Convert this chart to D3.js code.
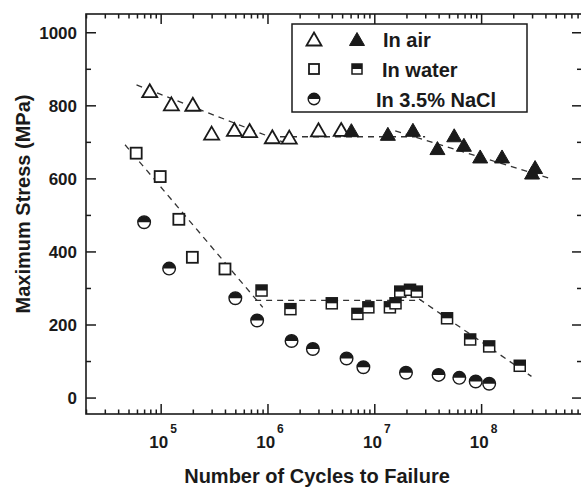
<!DOCTYPE html>
<html><head><meta charset="utf-8">
<script src="https://cdn.jsdelivr.net/npm/d3@7"></script>
<style>body{margin:0;background:#fff}svg{display:block}</style>
</head><body>
<script>
// ---- data ----
const airOpenN   = [7.9e4, 1.26e5, 2.0e5, 3.0e5, 4.9e5, 6.8e5, 1.11e6, 1.6e6, 3.0e6, 4.9e6];
const airOpenS   = [840, 804, 803, 724, 734, 731, 714, 713, 733, 734];
const airFilledN = [6.1e6, 1.34e7, 2.3e7, 3.9e7, 5.6e7, 6.9e7, 9.8e7, 1.57e8, 3.2e8, 3.0e8];
const airFilledS = [732, 722, 733, 683, 718, 692, 660, 660, 631, 616];
const waterOpenN = [5.9e4, 9.9e4, 1.48e5, 1.98e5, 4.0e5];
const waterOpenS = [669, 605, 488, 384, 352];
const waterHalfN = [8.8e5, 1.64e6, 4.0e6, 6.95e6, 8.8e6, 1.4e7, 1.58e7, 1.75e7, 2.16e7, 2.5e7, 4.8e7, 7.9e7, 1.19e8, 2.3e8];
const waterHalfS = [293, 242, 258, 229, 247, 247, 258, 290, 295, 290, 217, 159, 140, 87];
const naclN = [7.0e4, 1.2e5, 5.0e5, 8.0e5, 1.68e6, 2.66e6, 5.5e6, 7.9e6, 1.98e7, 4.0e7, 6.25e7, 8.9e7, 1.19e8];
const naclS = [480, 353, 272, 211, 155, 133, 107, 83, 68, 62, 54, 44, 38];
// dashed fit segments: [N start, N end], [S start, S end]
const airFitN   = [[5.94e4, 1.63e6], [1.31e6, 2.99e7], [1.57e7, 4.5e8]];
const airFitS   = [[856, 692], [714, 714], [730, 599]];
const waterFitN = [[4.64e4, 9.04e5], [7.66e5, 2.79e7], [2.16e7, 2.96e8]];
const waterFitS = [[692, 247], [266, 266], [287, 58]];
// ticks / labels
const yMajor = [0, 200, 400, 600, 800, 1000];
const yMinor = [100, 300, 500, 700, 900];
const xExps = [5, 6, 7, 8];
const legendLabels = ["In air", "In water", "In 3.5% NaCl"];
const xTitle = "Number of Cycles to Failure";
const yTitle = "Maximum Stress (MPa)";

// ---- layout ----
const W = 581, H = 489;
const L = 86, R = 582, T = 14, B = 414;
const FONT = "'Liberation Sans', Arial, Helvetica, sans-serif";
const INK = "#1a1a1a";

const x = d3.scaleLog().domain([2e4, 8.8e8]).range([L, R]);
const y = d3.scaleLinear().domain([-45, 1050]).range([B, T]);

const xMajorVals = [1e5, 1e6, 1e7, 1e8];
const xMinorVals = [];
for (let e = 4; e <= 8; e++) for (let m = 2; m <= 9; m++) { const v = m * Math.pow(10, e); if (v < 8.8e8) xMinorVals.push(v); }

const svg = d3.select("body").append("svg").attr("width", W).attr("height", H);

function styleAxis(g) {
  g.select(".domain").remove();
  g.selectAll(".tick line").attr("stroke", INK).attr("stroke-width", 1.5);
  g.attr("font-family", FONT);
}

// x axes (bottom + top), ticks inward
svg.append("g").attr("transform", `translate(0,${B})`)
  .call(d3.axisBottom(x).tickValues(xMajorVals).tickSize(-10).tickSizeOuter(0).tickFormat(() => "")).call(styleAxis);
svg.append("g").attr("transform", `translate(0,${B})`)
  .call(d3.axisBottom(x).tickValues(xMinorVals).tickSize(-4.5).tickSizeOuter(0).tickFormat(() => "")).call(styleAxis);
svg.append("g").attr("transform", `translate(0,${T})`)
  .call(d3.axisTop(x).tickValues(xMajorVals).tickSize(-10).tickSizeOuter(0).tickFormat(() => "")).call(styleAxis);
svg.append("g").attr("transform", `translate(0,${T})`)
  .call(d3.axisTop(x).tickValues(xMinorVals).tickSize(-4.5).tickSizeOuter(0).tickFormat(() => "")).call(styleAxis);

// y axes (left + right)
const gl = svg.append("g").attr("transform", `translate(${L},0)`)
  .call(d3.axisLeft(y).tickValues(yMajor).tickSize(-10).tickSizeOuter(0).tickPadding(9).tickFormat(d3.format("d")));
styleAxis(gl);
gl.selectAll(".tick text").attr("font-size", 17).attr("font-weight", "bold").attr("fill", INK).attr("dy", "0.36em");
svg.append("g").attr("transform", `translate(${L},0)`)
  .call(d3.axisLeft(y).tickValues(yMinor).tickSize(-5).tickSizeOuter(0).tickFormat(() => "")).call(styleAxis);
svg.append("g").attr("transform", `translate(${R},0)`)
  .call(d3.axisRight(y).tickValues(yMajor).tickSize(-10).tickSizeOuter(0).tickFormat(() => "")).call(styleAxis);
svg.append("g").attr("transform", `translate(${R},0)`)
  .call(d3.axisRight(y).tickValues(yMinor).tickSize(-5).tickSizeOuter(0).tickFormat(() => "")).call(styleAxis);

// frame
svg.append("rect").attr("x", L).attr("y", T).attr("width", R - L).attr("height", B - T)
  .attr("fill", "none").attr("stroke", INK).attr("stroke-width", 1.6);

// x tick labels 10^n
xExps.forEach(e => {
  const t = svg.append("text").attr("x", x(Math.pow(10, e)) + 2.5).attr("y", 448)
    .attr("text-anchor", "middle").attr("font-family", FONT).attr("font-weight", "bold").attr("fill", INK);
  t.append("tspan").attr("font-size", 17).text("10");
  t.append("tspan").attr("font-size", 12).attr("dx", 2).attr("dy", -15).text(e);
});

// axis titles
svg.append("text").attr("x", 317).attr("y", 483).attr("text-anchor", "middle")
  .attr("font-family", FONT).attr("font-weight", "bold").attr("font-size", 20).attr("fill", INK).text(xTitle);
svg.append("text").attr("transform", "translate(30,204) rotate(-90)").attr("text-anchor", "middle")
  .attr("font-family", FONT).attr("font-weight", "bold").attr("font-size", 20).attr("fill", INK).text(yTitle);

// fit lines
const fitG = svg.append("g").attr("fill", "none").attr("stroke", "#333").attr("stroke-width", 1.3).attr("stroke-dasharray", "6,5");
[[airFitN, airFitS], [waterFitN, waterFitS]].forEach(([ns, ss]) => {
  ns.forEach((n, i) => {
    fitG.append("line").attr("x1", x(n[0])).attr("y1", y(ss[i][0])).attr("x2", x(n[1])).attr("y2", y(ss[i][1]));
  });
});

// marker drawers
const TRI = "M0,-6.5L7.5,6.5L-7.5,6.5Z";
function openTri(g, px, py) {
  g.append("path").attr("d", TRI).attr("transform", `translate(${px},${py})`)
    .attr("fill", "#fff").attr("stroke", INK).attr("stroke-width", 1.8).attr("stroke-linejoin", "miter");
}
function filledTri(g, px, py) {
  g.append("path").attr("d", TRI).attr("transform", `translate(${px},${py})`)
    .attr("fill", INK).attr("stroke", INK).attr("stroke-width", 1);
}
function openSq(g, px, py, s = 11) {
  g.append("rect").attr("x", px - s / 2).attr("y", py - s / 2).attr("width", s).attr("height", s)
    .attr("fill", "#fff").attr("stroke", INK).attr("stroke-width", 1.8);
}
function halfSq(g, px, py, s = 11) {
  g.append("rect").attr("x", px - s / 2).attr("y", py - s / 2).attr("width", s).attr("height", s)
    .attr("fill", "#fff").attr("stroke", INK).attr("stroke-width", 1.5);
  g.append("rect").attr("x", px - s / 2).attr("y", py - s / 2).attr("width", s).attr("height", s / 2)
    .attr("fill", INK);
}
function halfCirc(g, px, py, r = 6.3) {
  g.append("circle").attr("cx", px).attr("cy", py).attr("r", r)
    .attr("fill", "#fff").attr("stroke", INK).attr("stroke-width", 1.4);
  g.append("path").attr("d", `M${-r},0A${r},${r} 0 0 1 ${r},0Z`).attr("transform", `translate(${px},${py})`).attr("fill", INK);
}

const mk = svg.append("g");
airOpenN.forEach((n, i) => openTri(mk, x(n), y(airOpenS[i])));
airFilledN.forEach((n, i) => filledTri(mk, x(n), y(airFilledS[i])));
waterOpenN.forEach((n, i) => openSq(mk, x(n), y(waterOpenS[i])));
waterHalfN.forEach((n, i) => halfSq(mk, x(n), y(waterHalfS[i])));
naclN.forEach((n, i) => halfCirc(mk, x(n), y(naclS[i])));

// legend
const lg = svg.append("g");
lg.append("rect").attr("x", 292).attr("y", 24).attr("width", 235).attr("height", 88)
  .attr("fill", "#fff").attr("stroke", INK).attr("stroke-width", 1.5);
openTri(lg, 314, 39); filledTri(lg, 357, 39);
openSq(lg, 314, 69, 10); halfSq(lg, 357, 69, 10);
halfCirc(lg, 314, 99, 5.8);
const lx = [383, 382, 376];
legendLabels.forEach((t, i) => {
  lg.append("text").attr("x", lx[i]).attr("y", 46.5 + i * 30).attr("font-family", FONT)
    .attr("font-weight", "bold").attr("font-size", 20).attr("fill", INK).text(t);
});
</script>
</body></html>
